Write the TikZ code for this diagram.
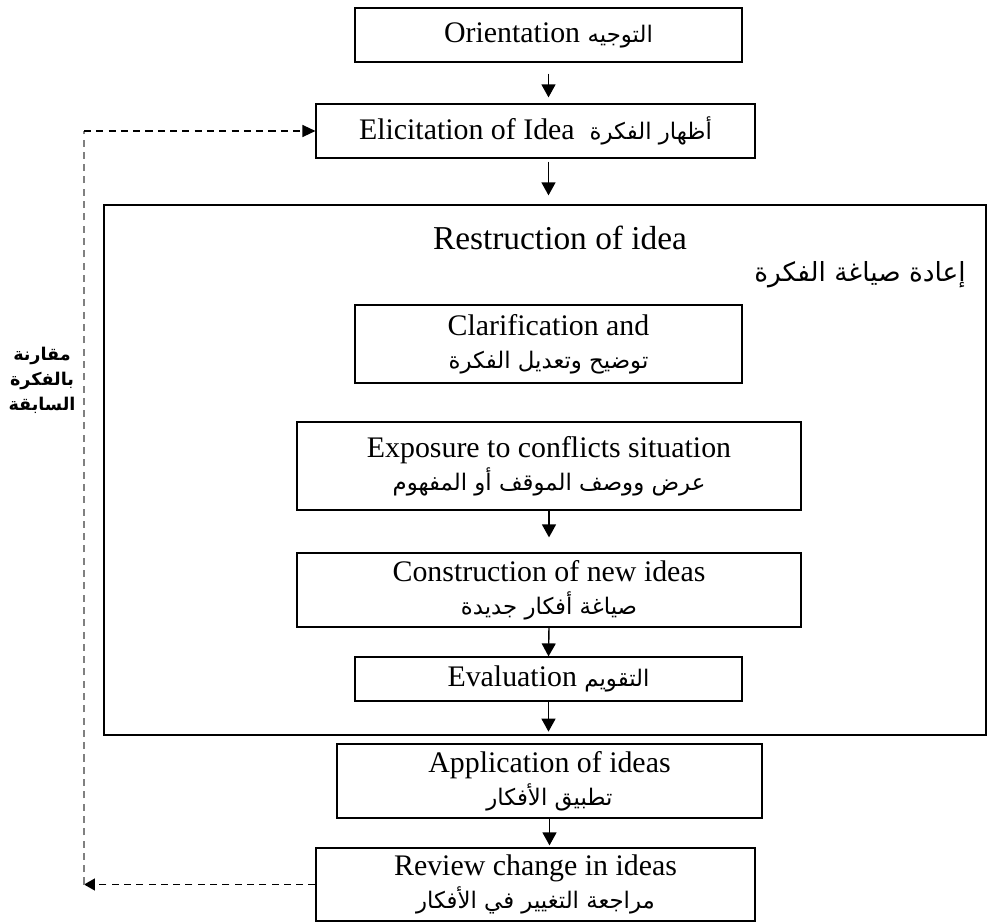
\documentclass[tikz,border=0pt]{standalone}
\usepackage{fontspec}
\setmainfont{Liberation Serif}
\newfontfamily\arabicfont[Script=Arabic]{DejaVu Sans}
\TeXXeTstate=1
\usetikzlibrary{arrows.meta,positioning}
\newcommand{\artxt}[1]{{\arabicfont\fontsize{13}{16}\selectfont\beginR #1\endR}}

\begin{document}
\begin{tikzpicture}[x=0.02cm,y=-0.02cm,
    stepbox/.style={draw, line width=0.7pt, inner sep=0pt, align=center, font=\fontsize{17}{19}\selectfont},
    arr/.style={-{Triangle[length=0.26cm,width=0.28cm]}, line width=0.8pt},
    back/.style={line width=0.8pt, dash pattern=on 4pt off 3pt}]
    \useasboundingbox (0,0) rectangle (987,922);

    % Outer frame of the restructuring phase
    \node[draw, line width=0.8pt, minimum width=17.64cm, minimum height=10.6cm] (frame) at (545,470) {};
    \node[font=\fontsize{19}{22}\selectfont] (title) at (560,238) {Restruction of idea};
    \node[font=\arabicfont\fontsize{15}{18}\selectfont] (artitle) at (860,275) {\beginR إعادة صياغة الفكرة\endR};

    % Steps
    \node[stepbox, minimum width=7.74cm, minimum height=1.08cm] (orient) at (548.5,35) {Orientation \artxt{التوجيه}};
    \node[stepbox, minimum width=8.78cm, minimum height=1.08cm] (elicit) at (535.5,131) {Elicitation of Idea\ \ \artxt{أظهار الفكرة}};
    \node[stepbox, minimum width=7.74cm, minimum height=1.56cm] (clarif) at (548.5,344) {Clarification and\\\artxt{توضيح وتعديل الفكرة}};
    \node[stepbox, minimum width=10.08cm, minimum height=1.76cm] (expos) at (549,466) {Exposure to conflicts situation\\\artxt{عرض ووصف الموقف أو المفهوم}};
    \node[stepbox, minimum width=10.08cm, minimum height=1.48cm] (constr) at (549,590) {Construction of new ideas\\\artxt{صياغة أفكار جديدة}};
    \node[stepbox, minimum width=7.74cm, minimum height=0.88cm] (eval) at (548.5,679) {Evaluation \artxt{التقويم}};
    \node[stepbox, minimum width=8.5cm, minimum height=1.48cm] (appl) at (549.5,781) {Application of ideas\\\artxt{تطبيق الأفكار}};
    \node[stepbox, minimum width=8.78cm, minimum height=1.46cm] (review) at (535.5,884.5) {Review change in ideas\\\artxt{مراجعة التغيير في الأفكار}};

    % Side label
    \node[font=\arabicfont\bfseries\fontsize{10}{14.2}\selectfont, align=center] (compare) at (42,380) {\beginR مقارنة\endR\\\beginR بالفكرة\endR\\\beginR السابقة\endR};

    % Main arrows
    \draw[arr, shorten <=0.22cm, shorten >=0.12cm] (orient.south) -- (orient.south |- elicit.north);
    \draw[arr, shorten <=0.06cm, shorten >=0.18cm] (orient.south |- elicit.south) -- (orient.south |- frame.north);
    \draw[arr, shorten >=0.3cm] (expos.south) -- (constr.north);
    \draw[arr] (constr.south) -- (eval.north);
    \draw[arr, shorten >=0.08cm] (eval.south) -- (eval.south |- frame.south);
    \draw[arr, shorten >=0.04cm] (appl.south) -- (appl.south |- review.north);

    % Feedback loop
    \coordinate (fbbot) at (84,884.5);
    \coordinate (fbtop) at (84,131);
    \draw[back, -{Triangle[length=0.22cm,width=0.24cm]}] (review.west) -- (fbbot);
    \draw[back, gray] (fbbot) -- (fbtop);
    \draw[back, -{Triangle[length=0.26cm,width=0.24cm]}] (fbtop) -- (elicit.west);
\end{tikzpicture}
\end{document}
